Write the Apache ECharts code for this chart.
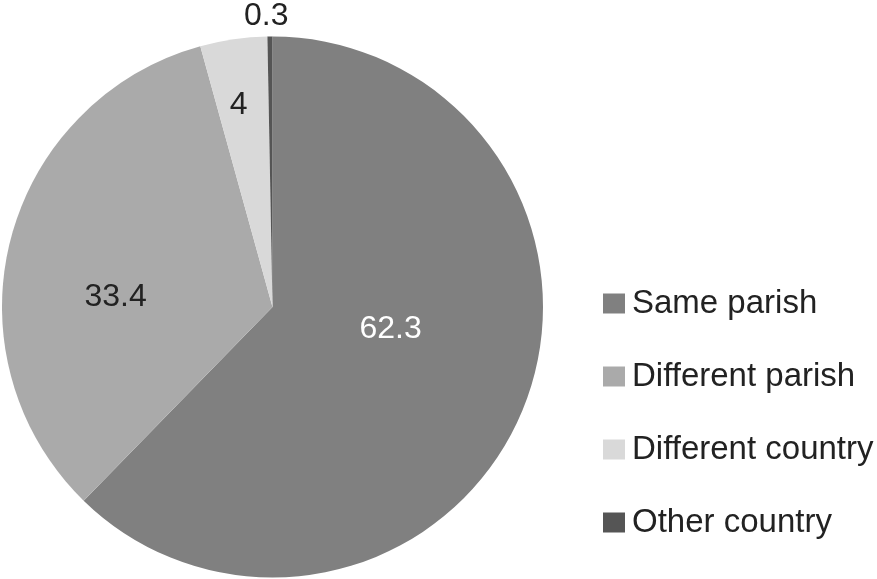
<!DOCTYPE html>
<html><head><meta charset="utf-8">
<script src="https://cdn.jsdelivr.net/npm/echarts@6/dist/echarts.min.js"></script>
<style>html,body{margin:0;padding:0;background:#fff}#c{width:877px;height:579px}</style>
</head><body><div id="c"></div>
<script>
const categories = ["Same parish", "Different parish", "Different country", "Other country"];
const values = [62.3, 33.4, 4, 0.3];
const colors = ["#808080", "#aaaaaa", "#d9d9d9", "#555555"];
const labelColors = ["#ffffff", "#222222", "#222222", "#222222"];
const labelOffsets = [[-10, -30], [-23, 25], [-14, -65], [-5, -153]];

const chart = echarts.init(document.getElementById('c'));
chart.setOption({
  animation: false,
  legend: {
    orient: 'vertical',
    left: 598,
    top: 282,
    itemWidth: 22,
    itemHeight: 20,
    itemGap: 40,
    icon: 'rect',
    data: categories,
    textStyle: { fontFamily: 'Liberation Sans, Arial, sans-serif', fontSize: 33, color: '#222', lineHeight: 30, padding: [0,0,0,2] }
  },
  series: [{
    type: 'pie',
    center: [272.5, 307],
    radius: [0, 270.5],
    startAngle: 90,
    clockwise: true,
    avoidLabelOverlap: false,
    silent: true,
    label: {
      show: true,
      position: 'inside',
      fontFamily: 'Liberation Sans, Arial, sans-serif',
      fontSize: 32,
      formatter: p => String(p.value)
    },
    labelLine: { show: false },
    itemStyle: { borderWidth: 0 },
    data: categories.map((n, i) => ({
      name: n, value: values[i],
      itemStyle: { color: colors[i] },
      label: { color: labelColors[i], offset: labelOffsets[i] }
    }))
  }]
});
</script></body></html>
